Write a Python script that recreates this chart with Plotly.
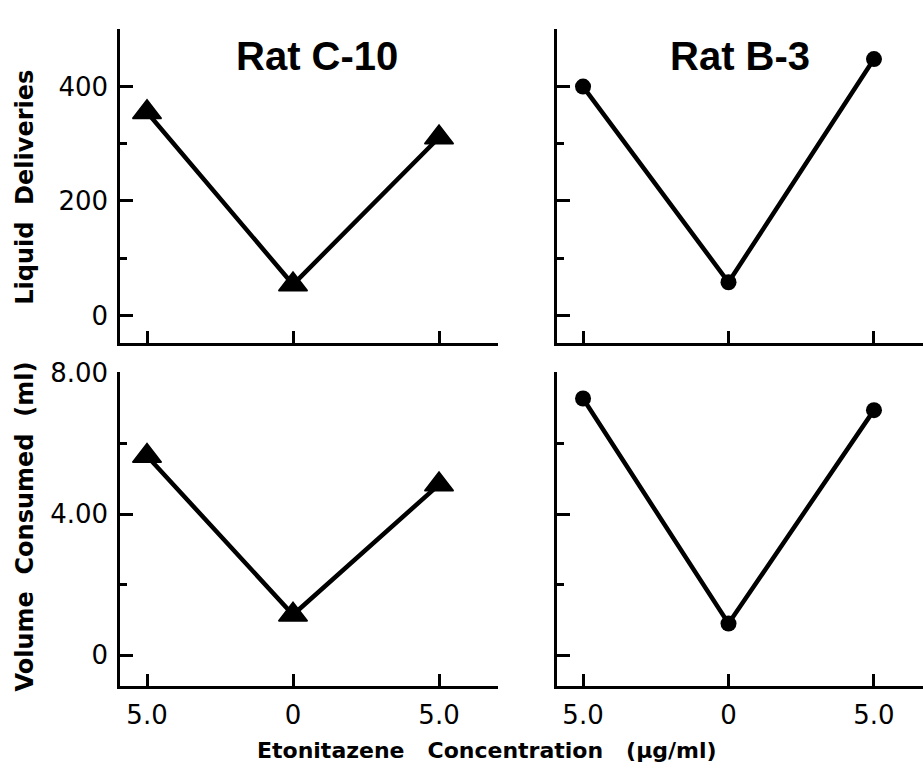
import plotly.graph_objects as go

# ---- data ----
conc_labels = ["5.0", "0", "5.0"]
conc_pos = [0, 1, 2]
c10_deliveries = [355, 54, 311]
b3_deliveries = [400, 58, 448]
c10_volume = [5.65, 1.15, 4.84]
b3_volume = [7.28, 0.9, 6.95]

W, H = 923, 774

fig = go.Figure()

line = dict(color="black", width=4.5)
tri = dict(symbol="triangle-up", size=25, color="black", line=dict(color="black", width=1.5))
dot = dict(symbol="circle", size=16, color="black")

fig.add_trace(go.Scatter(x=conc_pos, y=c10_deliveries, mode="lines+markers", line=line, marker=tri, xaxis="x", yaxis="y"))
fig.add_trace(go.Scatter(x=conc_pos, y=b3_deliveries, mode="lines+markers", line=line, marker=dot, xaxis="x2", yaxis="y2"))
fig.add_trace(go.Scatter(x=conc_pos, y=c10_volume, mode="lines+markers", line=line, marker=tri, xaxis="x3", yaxis="y3"))
fig.add_trace(go.Scatter(x=conc_pos, y=b3_volume, mode="lines+markers", line=line, marker=dot, xaxis="x4", yaxis="y4"))

tickfont = dict(family="DejaVu Sans", size=26, color="black")

def xax(domain, rng, anchor, labels):
    return dict(domain=domain, range=rng, anchor=anchor, showgrid=False, zeroline=False,
                showline=True, linecolor="black", linewidth=2.5,
                ticks="inside", ticklen=12, tickwidth=2.5, tickcolor="black",
                tickvals=conc_pos, ticktext=conc_labels, showticklabels=labels,
                tickfont=tickfont, ticklabelstandoff=4, fixedrange=True)

def yax(domain, rng, anchor, vals, texts, minor_dt, labels):
    return dict(domain=domain, range=rng, anchor=anchor, showgrid=False, zeroline=False,
                showline=True, linecolor="black", linewidth=2.5,
                ticks="inside", ticklen=13, tickwidth=2.5, tickcolor="black",
                tickvals=vals, ticktext=texts, showticklabels=labels,
                minor=dict(dtick=minor_dt, tick0=0, ticks="inside", ticklen=7, tickwidth=2.5, tickcolor="black"),
                tickfont=tickfont, ticklabelstandoff=4, fixedrange=True)

xl = [120 / W, 498 / W]
xr = [557 / W, 1.0]
yt = [1 - 335 / H, 1 - 15 / H]
yb = [1 - 684 / H, 1 - 365 / H]

fig.update_layout(
    width=W, height=H, margin=dict(l=0, r=0, t=0, b=0),
    paper_bgcolor="white", plot_bgcolor="white", showlegend=False,
    xaxis=xax(xl, [-0.185, 2.404], "y", False),
    xaxis2=xax(xr, [-0.179, 2.337], "y2", False),
    xaxis3=xax(xl, [-0.185, 2.404], "y3", True),
    xaxis4=xax(xr, [-0.179, 2.337], "y4", True),
    yaxis=yax(yt, [-48, 501], "x", [0, 200, 400], ["0", "200", "400"], 100, True),
    yaxis2=yax(yt, [-48, 501], "x2", [0, 200, 400], ["0", "200", "400"], 100, False),
    yaxis3=yax(yb, [-0.86, 8.02], "x3", [0, 4, 8], ["0", "4.00", "8.00"], 2, True),
    yaxis4=yax(yb, [-0.86, 8.02], "x4", [0, 4, 8], ["0", "4.00", "8.00"], 2, False),
)

title_font = dict(family="Liberation Sans", size=40, color="black")
lab_font = dict(family="DejaVu Sans", size=24, color="black")
sp = "\u00a0"
fig.add_annotation(text="<b>Rat C-10</b>", x=317 / W, y=1 - 43 / H, xref="paper", yref="paper",
                   showarrow=False, font=title_font, xanchor="center", yanchor="middle")
fig.add_annotation(text="<b>Rat B-3</b>", x=740 / W, y=1 - 43 / H, xref="paper", yref="paper",
                   showarrow=False, font=title_font, xanchor="center", yanchor="middle")
fig.add_annotation(text="<b>Liquid" + sp * 2 + "Deliveries</b>", x=25 / W, y=1 - 177 / H,
                   xref="paper", yref="paper", showarrow=False, textangle=-90, font=lab_font,
                   xanchor="center", yanchor="middle")
fig.add_annotation(text="<b>Volume" + sp * 2 + "Consumed" + sp * 2 + "(ml)</b>",
                   x=25 / W, y=1 - 522 / H, xref="paper", yref="paper", showarrow=False,
                   textangle=-90, font=lab_font, xanchor="center", yanchor="middle")
fig.add_annotation(text="<b>Etonitazene" + sp * 3 + "Concentration" + sp * 3 + "(µg/ml)</b>",
                   x=487 / W, y=1 - 750 / H, xref="paper", yref="paper", showarrow=False,
                   font=dict(family="DejaVu Sans", size=22, color="black"),
                   xanchor="center", yanchor="middle")

fig.write_html("out.html")
